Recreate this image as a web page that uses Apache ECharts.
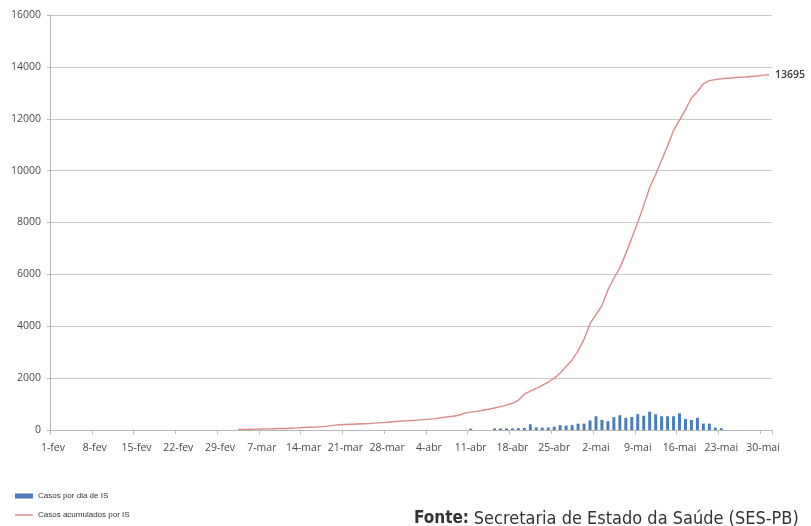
<!DOCTYPE html>
<html>
<head>
<meta charset="utf-8">
<script src="https://cdn.jsdelivr.net/npm/echarts@6/dist/echarts.min.js"></script>
<style>
  html, body { margin: 0; padding: 0; background: #fff; }
  #chart { width: 811px; height: 526px; }
</style>
</head>
<body>
<div id="chart"></div>
<script>
// Month names and their lengths (2020) used to build the date categories 1-fev .. 31-mai
const months = [['fev', 29], ['mar', 31], ['abr', 30], ['mai', 31]];
const categories = [];
months.forEach(([m, n]) => { for (let d = 1; d <= n; d++) categories.push(d + '-' + m); });

// Cumulative cases by symptom onset (starts 3-mar)
const lineStart = '3-mar';
const cumulativeValues = [
  20, 25, 30, 35, 40, 45, 50, 55, 60, 70,
  80, 95, 105, 115, 130, 150, 180, 200, 210, 220,
  230, 240, 250, 265, 285, 300, 320, 335, 350, 365,
  380, 400, 420, 440, 470, 500, 530, 570, 650, 690,
  720, 760, 800, 850, 900, 960, 1030, 1150, 1380, 1500,
  1600, 1720, 1850, 1990, 2200, 2450, 2700, 3050, 3500, 4100,
  4450, 4800, 5400, 5850, 6250, 6800, 7400, 8000, 8650, 9350,
  9850, 10400, 10950, 11550, 11950, 12350, 12800, 13050, 13350, 13470,
  13510, 13540, 13560, 13580, 13600, 13610, 13630, 13650, 13680, 13695
];

// Daily cases by symptom onset (starts 11-abr)
const barStart = '11-abr';
const dailyValues = [
  50, null, null, null, 60, 60, 60, 60, 70, 80,
  220, 100, 90, 100, 130, 190, 170, 190, 245, 245,
  370, 530, 385, 340, 495, 570, 470, 500, 610, 550,
  705, 610, 530, 530, 530, 640, 425, 385, 470, 245,
  245, 95, 70
];

const yTicks = { min: 0, max: 16000, interval: 2000 };

function pad(start, values) {
  const out = new Array(categories.length).fill(null);
  const s = categories.indexOf(start);
  values.forEach((v, k) => { if (s + k < out.length) out[s + k] = v; });
  return out;
}
const lineData = pad(lineStart, cumulativeValues);
const barData = pad(barStart, dailyValues);

const chart = echarts.init(document.getElementById('chart'));
const labelColor = '#4a4a4a';
const barColor = '#4a7ebb';
const lineColor = '#d98c8a';
const legendText = { fontSize: 8, color: '#333', fontFamily: 'Liberation Sans Narrow, Liberation Sans' };
chart.setOption({
  animation: false,
  backgroundColor: '#ffffff',
  grid: { left: 50, right: 39, top: 15, bottom: 96 },
  legend: [
    {
      left: 10, top: 487,
      itemWidth: 18, itemHeight: 5,
      textStyle: legendText,
      data: [{ name: 'Casos por dia de IS', icon: 'rect' }]
    },
    {
      left: 10, top: 506,
      itemWidth: 18, itemHeight: 1.5,
      textStyle: legendText,
      data: [{ name: 'Casos acumulados por IS', icon: 'rect', itemStyle: { color: lineColor } }]
    }
  ],
  xAxis: {
    type: 'category',
    data: categories,
    boundaryGap: true,
    axisLine: { lineStyle: { color: '#b8b8b8', width: 1 } },
    axisTick: { show: true, interval: 6, length: 4, lineStyle: { color: '#b8b8b8' } },
    axisLabel: { interval: 6, margin: 13, fontSize: 10.5, color: labelColor, fontFamily: 'Open Sans' },
    splitLine: { show: false }
  },
  yAxis: {
    type: 'value',
    min: yTicks.min, max: yTicks.max, interval: yTicks.interval,
    axisLine: { show: true, lineStyle: { color: '#b8b8b8', width: 1 } },
    axisTick: { show: true, length: 3, lineStyle: { color: '#b8b8b8' } },
    axisLabel: { margin: 9, fontSize: 10.5, color: labelColor, fontFamily: 'Open Sans', formatter: v => String(v) },
    splitLine: { lineStyle: { color: '#c8c8c8', width: 1.2 } }
  },
  series: [
    {
      name: 'Casos por dia de IS',
      type: 'bar',
      data: barData,
      barWidth: '50%',
      itemStyle: { color: barColor }
    },
    {
      name: 'Casos acumulados por IS',
      type: 'line',
      data: lineData,
      symbol: 'none',
      connectNulls: false,
      lineStyle: { color: lineColor, width: 1.4 },
      itemStyle: { color: lineColor },
      endLabel: {
        show: true,
        formatter: p => String(p.value),
        color: '#3a3a3a',
        fontSize: 10.5,
        fontWeight: 600,
        fontFamily: 'Open Sans',
        distance: 6
      }
    }
  ],
  graphic: [
    {
      type: 'text',
      left: 414,
      top: 510,
      style: {
        text: '{b|Fonte:} {r|Secretaria de Estado da Saúde (SES-PB)}',
        rich: {
          b: { fontWeight: 'bold', fontSize: 17, fontFamily: 'DejaVu Sans Condensed', fill: '#333' },
          r: { fontSize: 18, fontFamily: 'DejaVu Sans Condensed', fill: '#333' }
        },
        fontSize: 17,
        fontFamily: 'DejaVu Sans Condensed',
        fill: '#333'
      }
    }
  ]
});
</script>
</body>
</html>
